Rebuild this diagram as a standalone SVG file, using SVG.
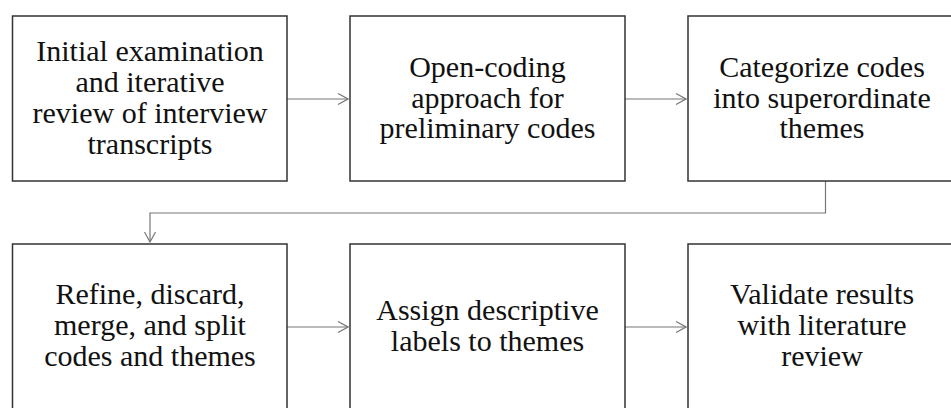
<svg xmlns="http://www.w3.org/2000/svg" width="951" height="408" viewBox="0 0 951 408">
<style>
.box{fill:#fff;stroke:#333;stroke-width:1.5}
.t{font-family:"Liberation Serif","Times New Roman",serif;font-size:30px;fill:#111;text-anchor:middle}
.c{fill:none;stroke:#777;stroke-width:1.2}
</style>
<defs>
<marker id="ah" viewBox="0 0 12 14" refX="11" refY="7" markerWidth="12" markerHeight="14" markerUnits="userSpaceOnUse" orient="auto">
<path d="M1,1.5 L11,7 L1,12.5" fill="none" stroke="#777" stroke-width="1.2"/>
</marker>
</defs>
<rect width="951" height="408" fill="#fff"/>
<g id="connectors">
<line class="c" x1="287" y1="99" x2="348" y2="99" marker-end="url(#ah)"/>
<line class="c" x1="625" y1="99" x2="686" y2="99" marker-end="url(#ah)"/>
<polyline class="c" points="825.5,181 825.5,213 150,213 150,242" marker-end="url(#ah)"/>
<line class="c" x1="287" y1="327" x2="348" y2="327" marker-end="url(#ah)"/>
<line class="c" x1="625" y1="327" x2="686" y2="327" marker-end="url(#ah)"/>
</g>
<g id="n1">
<rect class="box" x="12.5" y="16" width="274.5" height="165"/>
<text class="t" x="150" y="61">Initial examination</text>
<text class="t" x="150" y="92">and iterative</text>
<text class="t" x="150" y="123">review of interview</text>
<text class="t" x="150" y="154">transcripts</text>
</g>
<g id="n2">
<rect class="box" x="350" y="16" width="275" height="165"/>
<text class="t" x="487.5" y="77">Open-coding</text>
<text class="t" x="487.5" y="108">approach for</text>
<text class="t" x="487.5" y="138">preliminary codes</text>
</g>
<g id="n3">
<rect class="box" x="688" y="16" width="268" height="165"/>
<text class="t" x="822" y="77">Categorize codes</text>
<text class="t" x="822" y="108">into superordinate</text>
<text class="t" x="822" y="138">themes</text>
</g>
<g id="n4">
<rect class="box" x="12.5" y="244" width="274.5" height="180"/>
<text class="t" x="150" y="304">Refine, discard,</text>
<text class="t" x="150" y="335">merge, and split</text>
<text class="t" x="150" y="366">codes and themes</text>
</g>
<g id="n5">
<rect class="box" x="350" y="244" width="275" height="180"/>
<text class="t" x="487.5" y="320">Assign descriptive</text>
<text class="t" x="487.5" y="351">labels to themes</text>
</g>
<g id="n6">
<rect class="box" x="688" y="244" width="268" height="180"/>
<text class="t" x="822" y="304">Validate results</text>
<text class="t" x="822" y="335">with literature</text>
<text class="t" x="822" y="366">review</text>
</g>
</svg>
